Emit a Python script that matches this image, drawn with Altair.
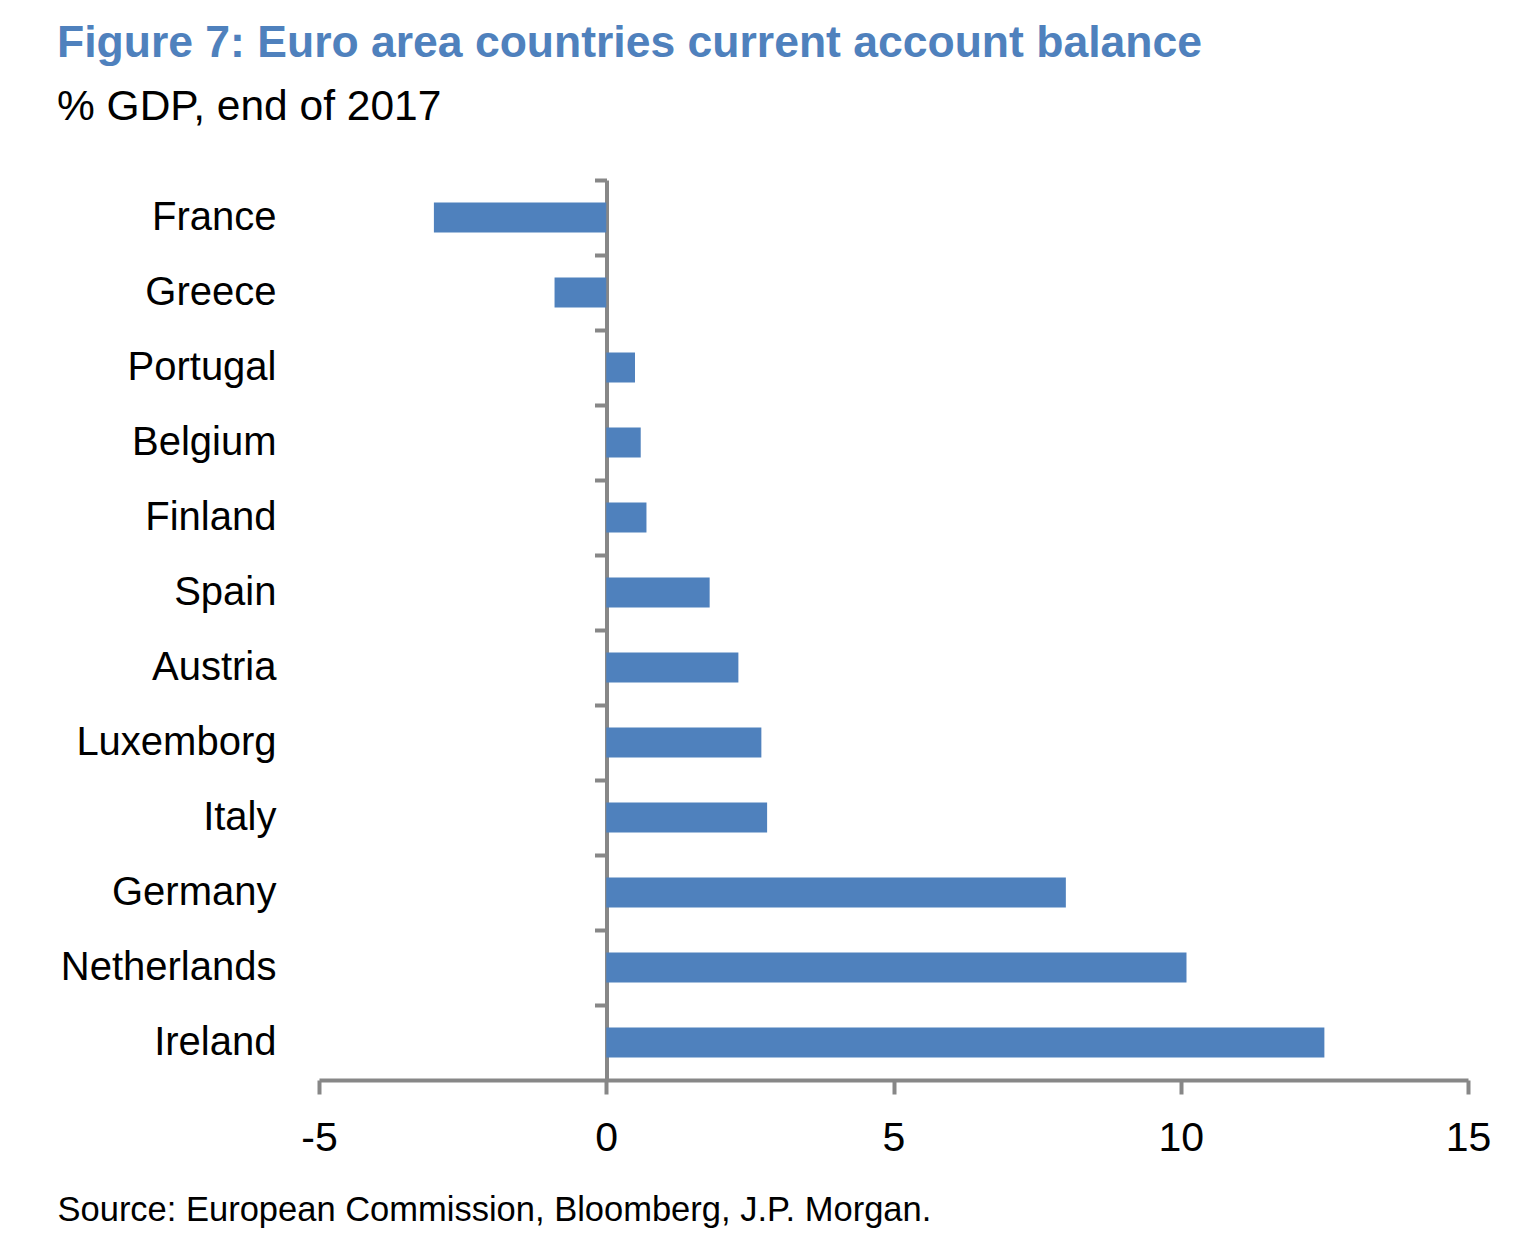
import altair as alt
import pandas as pd

countries = ["France", "Greece", "Portugal", "Belgium", "Finland", "Spain",
             "Austria", "Luxemborg", "Italy", "Germany", "Netherlands", "Ireland"]
balance = [-3.0, -0.9, 0.5, 0.6, 0.7, 1.8, 2.3, 2.7, 2.8, 8.0, 10.1, 12.5]
x_ticks = [-5, 0, 5, 10, 15]

title_text = "Figure 7: Euro area countries current account balance"
subtitle_text = "% GDP, end of 2017"
source_text = "Source: European Commission, Bloomberg, J.P. Morgan."

df = pd.DataFrame({"country": countries, "value": balance})

FONT = "Liberation Sans Narrow, Arial Narrow, Liberation Sans, Arial, sans-serif"
BLUE = "#4F81BD"
GREY = "#878787"

yscale = alt.Scale(domain=countries, paddingInner=0.6, paddingOuter=0.3)
xscale = alt.Scale(domain=[-5, 15], nice=False, zero=False)

bars = alt.Chart(df).mark_bar(color=BLUE).encode(
    x=alt.X("value:Q", scale=xscale,
            axis=alt.Axis(values=x_ticks, title=source_text, grid=False,
                          labelExpr="'' + datum.value",
                          domainColor=GREY, domainWidth=4,
                          tickColor=GREY, tickWidth=4, tickSize=14,
                          labelFontSize=41, labelColor="black", labelFont=FONT,
                          labelPadding=24, labelFlush=False,
                          titleFont=FONT, titleFontSize=34.5, titleFontWeight="normal",
                          titleColor="black", titleAlign="left", titleAnchor="start",
                          titleX=-262, titleY=140, titleBaseline="alphabetic")),
    y=alt.Y("country:N", scale=yscale, sort=countries,
            axis=alt.Axis(title=None, orient="left", domain=False, ticks=False,
                          grid=False, labelFontSize=40, labelColor="black",
                          labelFont=FONT, labelPadding=43, labelLimit=0)),
)

yline = alt.Chart(df).mark_bar(opacity=0).encode(
    x=alt.X("value:Q", scale=xscale, axis=None),
    y=alt.Y("country:N", scale=yscale, sort=countries,
            axis=alt.Axis(title=None, orient="left", offset=-287.5, labels=False,
                          grid=False, domainColor=GREY, domainWidth=4,
                          tickColor=GREY, tickWidth=4, tickSize=12,
                          bandPosition=0, tickOffset=-22.5)),
)

chart = alt.layer(bars, yline).resolve_axis(x="independent", y="independent").properties(
    width=1149, height=900,
    autosize=alt.AutoSizeParams(type="none"),
    padding={"left": 311, "top": 172, "right": 40, "bottom": 165},
    title=alt.Title(title_text, subtitle=subtitle_text, anchor="start", frame="group",
                    dx=-262, font=FONT, fontSize=44.5, fontWeight="bold", color=BLUE,
                    subtitleFont=FONT, subtitleFontSize=42.5, subtitleColor="black",
                    subtitlePadding=19, offset=49),
).configure_view(stroke=None)

chart.save("out.html", embed_options={"renderer": "svg", "actions": False})
